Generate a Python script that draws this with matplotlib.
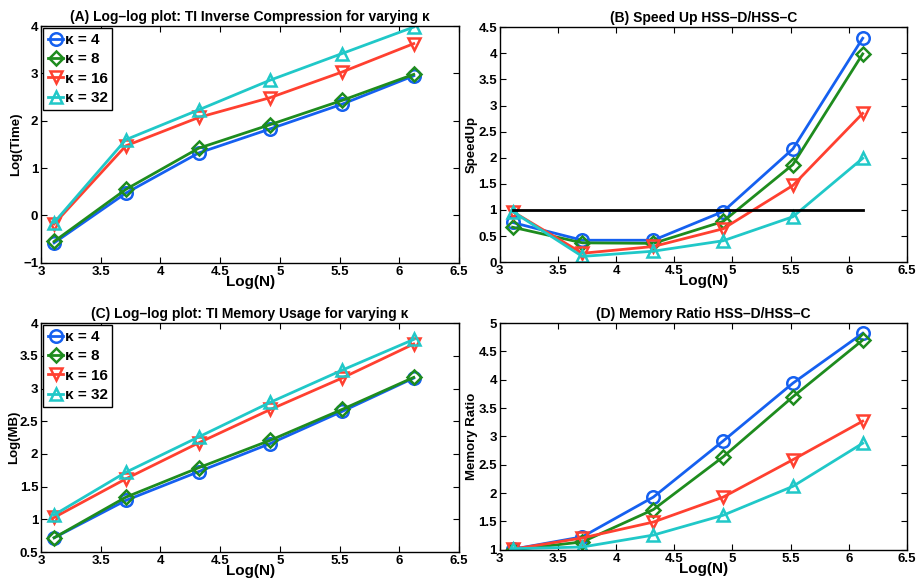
import matplotlib
matplotlib.use("Agg")
import matplotlib.pyplot as plt
import numpy as np

plt.rcParams['font.family'] = ['Liberation Sans', 'DejaVu Sans']
plt.rcParams['font.weight'] = 'bold'

# data
logN = [3.11, 3.71, 4.32, 4.92, 5.52, 6.12]
kappas = ['4', '8', '16', '32']
colores = ['#1560f0', '#1e8c1e', '#ff4030', '#20c8c8']
marcas = ['o', 'D', 'v', '^']

tiempo = [
    [-0.58, 0.47, 1.32, 1.83, 2.35, 2.95],
    [-0.55, 0.55, 1.42, 1.92, 2.43, 2.98],
    [-0.18, 1.47, 2.07, 2.49, 3.03, 3.63],
    [-0.15, 1.60, 2.23, 2.86, 3.42, 3.98],
]
speedup = [
    [0.76, 0.42, 0.42, 0.97, 2.17, 4.29],
    [0.67, 0.37, 0.36, 0.78, 1.87, 3.99],
    [0.97, 0.17, 0.30, 0.64, 1.47, 2.85],
    [0.97, 0.11, 0.21, 0.41, 0.87, 1.99],
]
memoria = [
    [0.72, 1.29, 1.73, 2.16, 2.65, 3.16],
    [0.72, 1.34, 1.79, 2.21, 2.68, 3.17],
    [1.03, 1.62, 2.17, 2.68, 3.16, 3.68],
    [1.07, 1.72, 2.26, 2.79, 3.28, 3.75],
]
ratio = [
    [1.01, 1.23, 1.93, 2.92, 3.94, 4.82],
    [1.00, 1.14, 1.71, 2.64, 3.70, 4.70],
    [1.01, 1.21, 1.49, 1.93, 2.59, 3.27],
    [1.02, 1.05, 1.26, 1.61, 2.12, 2.88],
]

fig = plt.figure(figsize=(9.17, 5.8), dpi=100)
axA = fig.add_axes([0.0447, 0.547, 0.456, 0.408])
axB = fig.add_axes([0.545, 0.548, 0.444, 0.405])
axC = fig.add_axes([0.0447, 0.048, 0.456, 0.395])
axD = fig.add_axes([0.545, 0.052, 0.444, 0.391])


def pintar(ax, datos, titulo, ylabel, ylim, yticks, ytl, xlab, leyenda=False):
    for i in range(4):
        ax.plot(logN, datos[i], color=colores[i], marker=marcas[i], lw=2,
                ms=9 if marcas[i] != 'D' else 7.5, mfc='none', mew=1.8,
                label='\u03ba = ' + kappas[i])
    ax.set_xlim(3, 6.5)
    ax.set_ylim(*ylim)
    ax.set_xticks([3, 3.5, 4, 4.5, 5, 5.5, 6, 6.5])
    ax.set_xticklabels(['3', '3.5', '4', '4.5', '5', '5.5', '6', '6.5'])
    ax.set_yticks(yticks)
    ax.set_yticklabels(ytl)
    ax.tick_params(direction='in', top=True, right=True, labelsize=9.5,
                   length=4, width=0.8, pad=2)
    for s in ax.spines.values():
        s.set_linewidth(1.0)
    ax.set_title(titulo, fontsize=10, fontweight='bold', pad=4)
    ax.set_xlabel('Log(N)', fontsize=11, fontweight='bold', labelpad=-2)
    ax.set_ylabel(ylabel, fontsize=9.5, fontweight='bold', va='center')
    ax.yaxis.set_label_coords(xlab, 0.5)
    if leyenda:
        leg = ax.legend(loc='upper left', fontsize=11, handlelength=1.0,
                        handletextpad=0.1, borderpad=0.3, labelspacing=0.35,
                        fancybox=False, framealpha=1, borderaxespad=0.15)
        leg.get_frame().set_edgecolor('black')
        leg.get_frame().set_linewidth(1.0)


pintar(axA, tiempo, '(A) Log\u2013log plot: TI Inverse Compression for varying \u03ba',
       'Log(Time)', (-1, 4), [-1, 0, 1, 2, 3, 4],
       ['\u22121', '0', '1', '2', '3', '4'], -0.06, leyenda=True)
pintar(axB, speedup, '(B) Speed Up HSS\u2013D/HSS\u2013C', 'SpeedUp', (0, 4.5),
       [0, 0.5, 1, 1.5, 2, 2.5, 3, 3.5, 4, 4.5],
       ['0', '0.5', '1', '1.5', '2', '2.5', '3', '3.5', '4', '4.5'], -0.068)
axB.plot([logN[0], logN[-1]], [1, 1], color='black', lw=2)
pintar(axC, memoria, '(C) Log\u2013log plot: TI Memory Usage for varying \u03ba',
       'Log(MB)', (0.5, 4), [0.5, 1, 1.5, 2, 2.5, 3, 3.5, 4],
       ['0.5', '1', '1.5', '2', '2.5', '3', '3.5', '4'], -0.064, leyenda=True)
pintar(axD, ratio, '(D) Memory Ratio HSS\u2013D/HSS\u2013C', 'Memory Ratio', (1, 5),
       [1, 1.5, 2, 2.5, 3, 3.5, 4, 4.5, 5],
       ['1', '1.5', '2', '2.5', '3', '3.5', '4', '4.5', '5'], -0.068)

fig.savefig('out.png', dpi=100)
